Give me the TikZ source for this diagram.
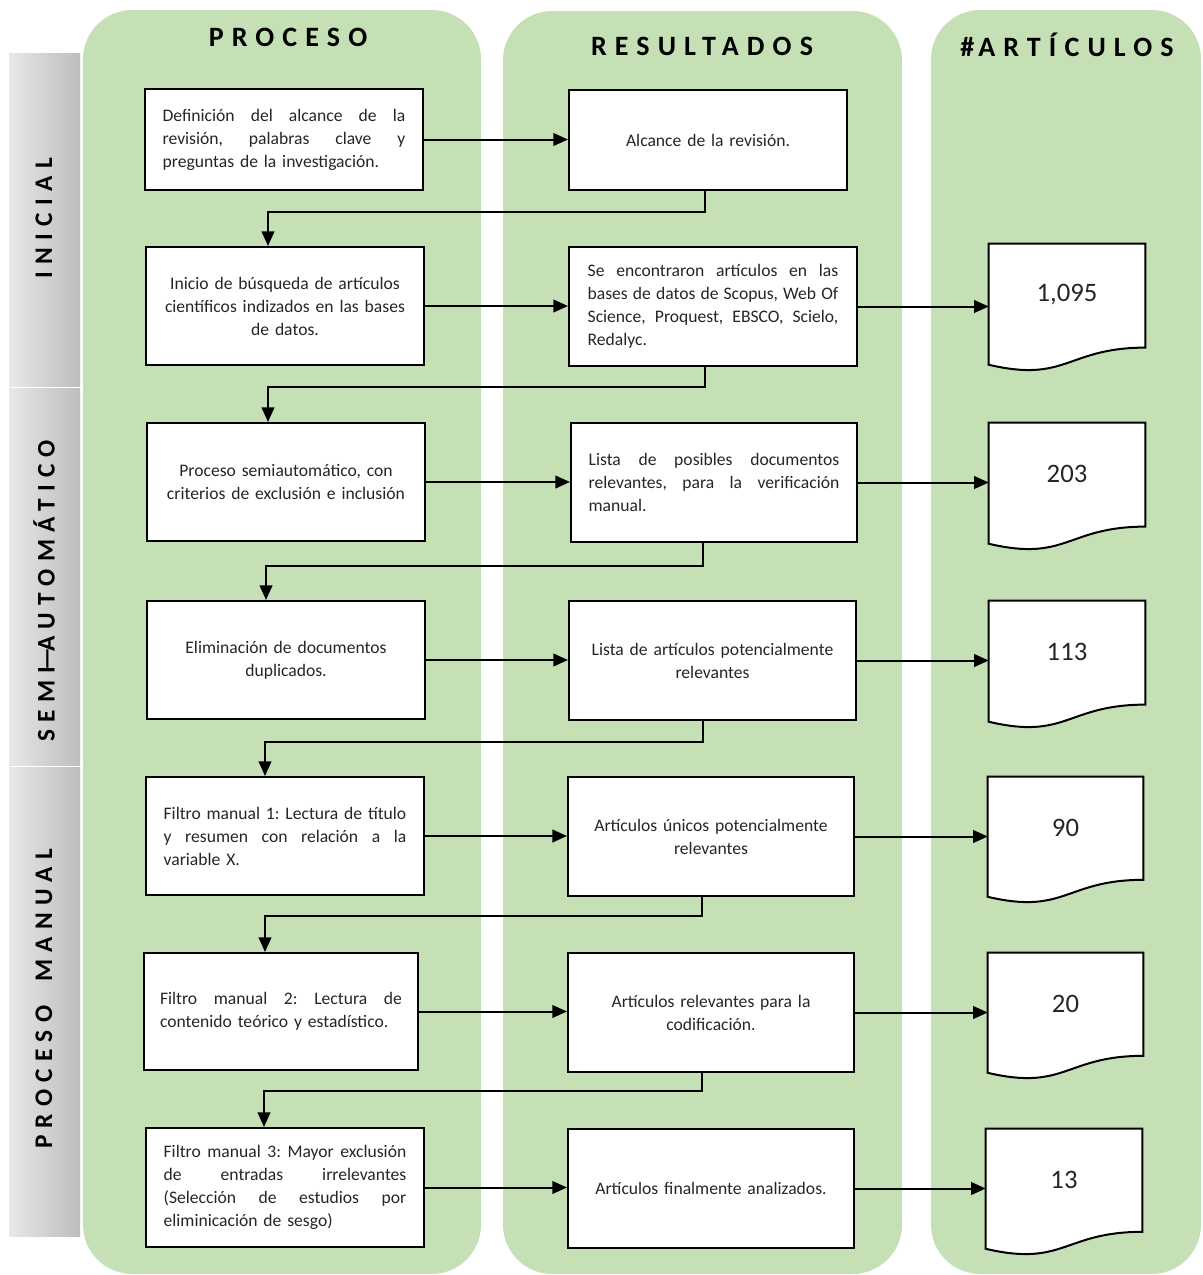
\documentclass[tikz,border=0pt]{standalone}
\usepackage{fontspec}
\setmainfont{Carlito}
\newfontfamily\hdrfont[LetterSpace=29]{Carlito Bold}
\usetikzlibrary{arrows.meta,calc,fit}
\frenchspacing
\definecolor{colgreen}{HTML}{C5E0B4}
\definecolor{txt}{HTML}{262626}
\definecolor{bandL}{HTML}{E8E8E8}
\definecolor{bandR}{HTML}{BDBDBD}
\newcommand{\jl}[2]{\leavevmode\hbox to #1{#2}}
\newcommand{\bodyf}{\fontsize{13.2}{17.25}\selectfont}
\newcommand{\pbox}[7]{%
  \node[box, minimum width={(#4-#2)*0.75pt}, minimum height={(#5-#3)*0.75pt}, #6]
    (#1) at ({(#2+#4)/2},{(#3+#5)/2}) {#7};}
\newcommand{\docshape}[6]{%
  \node[inner sep=0pt, fit={(#2,#3) (#2+#4,#3+#5)}] (#1) {};
  \draw[docline] (#1.north west) -- (#1.north east) -- ($(#1.north east)!0.802!(#1.south east)$) .. controls ($(#1.north)!0.802!(#1.south)$) and ($(#1.north)!1.077!(#1.south)$) .. ($(#1.north west)!0.934!(#1.south west)$) -- cycle;
  \node[numlbl] (#1t) at ($(#1.north)+(0,51)$) {#6};
}
\begin{document}
\begin{tikzpicture}[x=0.75pt,y=-0.75pt,
  box/.style={draw=black, fill=white, line width=1.5pt, inner sep=0pt, font=\bodyf, text=txt},
  docline/.style={draw=black, fill=white, line width=1.5pt},
  numlbl/.style={font=\fontsize{20}{24}\selectfont, text=txt},
  arr/.style={line width=1.5pt, -{Triangle[length=11pt,width=9.5pt]}},
  hdr/.style={font=\hdrfont\fontsize{21}{25}\selectfont, text=black},
  sidelbl/.style={font=\hdrfont\fontsize{19}{23}\selectfont, text=black, rotate=90},
  bandbox/.style={left color=bandL, right color=bandR},
  greencol/.style={fill=colgreen, rounded corners=37pt}]
\useasboundingbox (0,0) rectangle (1203,1275);

% columns
\fill[greencol] (83,10) rectangle (481,1274);
\fill[greencol] (503,11) rectangle (902,1274);
\fill[greencol] (931,10) rectangle (1201,1274);

% side bands
\shade[bandbox] (9,53) rectangle (80,386);
\shade[bandbox] (9,388) rectangle (80,765);
\shade[bandbox] (9,767) rectangle (80,1236);
\node[sidelbl] (sIni) at (44,218) {INICIAL};
\node[sidelbl] (sSemi) at (44,591) {SEMI\kern-3pt—\kern-3pt AUTOMÁTICO};
\node[sidelbl] (sMan) at (44,999) {PROCESO\hspace{8pt} MANUAL};

% headers
\node[hdr] (hProc) at (288,37) {PROCESO};
\node[hdr] (hRes) at (702,46) {RESULTADOS};
\node[hdr] (hArt) at (1067,45) {\#\kern3pt ARTÍCULOS};

% process column
\pbox{P1}{145}{89}{423}{190}{text width=182pt, align=left}
  {\jl{182pt}{Definición\hfill del\hfill alcance\hfill de\hfill la}\\\jl{182pt}{revisión,\hfill palabras\hfill clave\hfill y}\\preguntas de la investigación.}
\pbox{P2}{146}{247}{424}{365}{text width=195pt, align=center}
  {Inicio de búsqueda de artículos\\científicos indizados en las bases\\de datos.}
\pbox{P3}{147}{423}{425}{541}{text width=195pt, align=center}
  {Proceso semiautomático, con\\criterios de exclusión e inclusión}
\pbox{P4}{147}{601}{425}{719}{text width=195pt, align=center}
  {Eliminación de documentos\\duplicados.}
\pbox{P5}{146}{777}{424}{895}{text width=182pt, align=left}
  {\jl{182pt}{Filtro\hfill manual\hfill 1:\hfill Lectura\hfill de\hfill título}\\\jl{182pt}{y\hfill resumen\hfill con\hfill relación\hfill a\hfill la}\\variable X.}
\pbox{P6}{144}{953}{418}{1070}{text width=181.5pt, align=left}
  {\jl{181.5pt}{Filtro\hfill manual\hfill 2:\hfill Lectura\hfill de}\\contenido teórico y estadístico.}
\pbox{P7}{146}{1128}{424}{1247}{text width=182pt, align=left}
  {\jl{182pt}{Filtro\hfill manual\hfill 3:\hfill Mayor\hfill exclusión}\\\jl{182pt}{de\hfill entradas\hfill irrelevantes}\\\jl{182pt}{(Selección\hfill de\hfill estudios\hfill por}\\eliminicación de sesgo)}

% results column
\pbox{R1}{569}{90}{847}{190}{text width=190pt, align=center}
  {Alcance de la revisión.}
\pbox{R2}{569}{247}{857}{366}{text width=188pt, align=left}
  {\jl{188pt}{Se\hfill encontraron\hfill artículos\hfill en\hfill las}\\\jl{188pt}{bases\hfill de\hfill datos\hfill de\hfill Scopus,\hfill Web\hfill Of}\\\jl{188pt}{Science,\hfill Proquest,\hfill EBSCO,\hfill Scielo,}\\Redalyc.}
\pbox{R3}{571}{423}{857}{542}{text width=188pt, align=left}
  {\jl{188pt}{Lista\hfill de\hfill posibles\hfill documentos}\\\jl{188pt}{relevantes,\hfill para\hfill la\hfill verificación}\\manual.}
\pbox{R4}{569}{601}{856}{720}{text width=200pt, align=center}
  {Lista de artículos potencialmente\\relevantes}
\pbox{R5}{568}{777}{854}{896}{text width=200pt, align=center}
  {Artículos únicos potencialmente\\relevantes}
\pbox{R6}{568}{953}{854}{1072}{text width=200pt, align=center}
  {Artículos relevantes para la\\codificación.}
\pbox{R7}{568}{1129}{854}{1248}{text width=200pt, align=center}
  {Artículos finalmente analizados.}

% documents
\docshape{D2}{989}{244}{156}{129}{1,095}
\docshape{D3}{989}{423}{156}{129}{203}
\docshape{D4}{989}{601}{156}{129}{113}
\docshape{D5}{988}{777}{155}{128}{90}
\docshape{D6}{988}{953}{155}{128}{20}
\docshape{D7}{986}{1129}{156}{128}{13}

% horizontal arrows
\foreach \i in {1,...,7}{\draw[arr] (P\i.east) -- (P\i.east -| R\i.west);}
\foreach \i in {2,...,7}{\draw[arr] (R\i.east) -- (R\i.east -| D\i.west);}

% elbow connectors
\draw[arr] ($(R1.south)+(-3,0)$) -- ++(0,21) -| ($(P2.north)+(-17,0)$);
\draw[arr] ($(R2.south)+(-8,0)$) -- ++(0,20) -| ($(P3.north)+(-18,0)$);
\draw[arr] ($(R3.south)+(-11,0)$) -- ++(0,23) -| ($(P4.north)+(-20,0)$);
\draw[arr] ($(R4.south)+(-10,0)$) -- ++(0,21) -| ($(P5.north)+(-20,0)$);
\draw[arr] ($(R5.south)+(-9,0)$) -- ++(0,19) -| ($(P6.north)+(-16,0)$);
\draw[arr] ($(R6.south)+(-9,0)$) -- ++(0,18) -| ($(P7.north)+(-21,0)$);
\end{tikzpicture}
\end{document}
